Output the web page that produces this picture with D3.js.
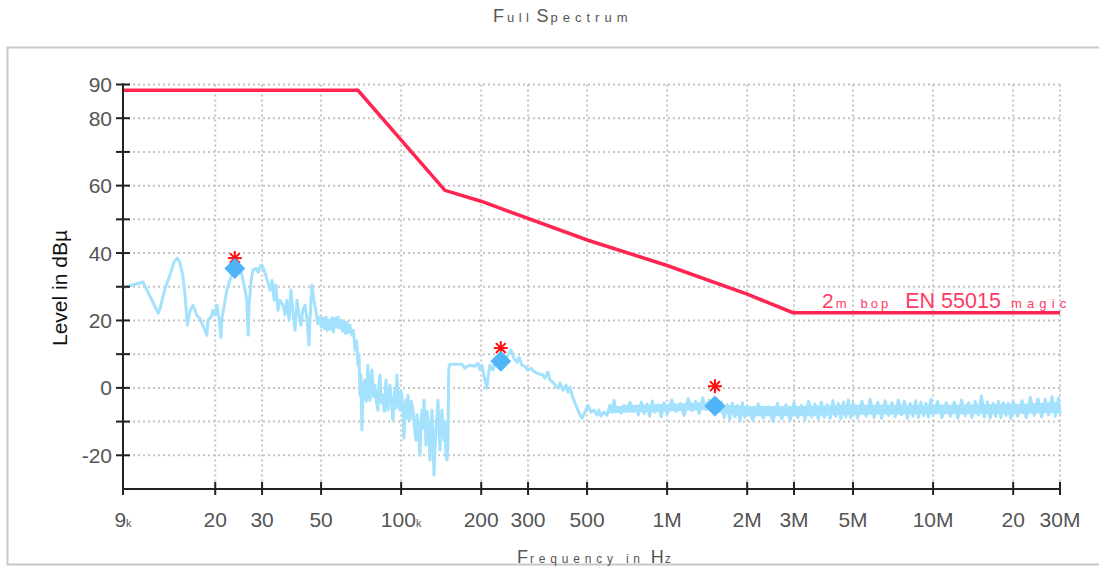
<!DOCTYPE html>
<html><head><meta charset="utf-8">
<script src="https://cdn.jsdelivr.net/npm/d3@7"></script>
<style>html,body{margin:0;padding:0;background:#fff;} svg{display:block;font-family:"Liberation Sans",Arial,sans-serif;}</style>
</head><body><svg id="c" width="1099" height="568"></svg>
<script>
// ---- data ----
const xTickFreqs = [9e3, 2e4, 3e4, 5e4, 1e5, 2e5, 3e5, 5e5, 1e6, 2e6, 3e6, 5e6, 1e7, 2e7, 3e7];
const xTickLabels = ["9k", "20", "30", "50", "100k", "200", "300", "500", "1M", "2M", "3M", "5M", "10M", "20", "30M"];
const yTickValues = [-20, -10, 0, 10, 20, 30, 40, 50, 60, 70, 80, 90];
const yTickLabels = ["-20", "", "0", "", "20", "", "40", "", "60", "", "80", "90"];

// limit line (frequency in kHz, level in dBµ)
const limitFreqKHz = [9, 68.8, 146, 201, 504, 1000, 2000, 2970, 30000];
const limitLevel = [88.3, 88.3, 58.6, 55.3, 43.8, 36.3, 27.8, 22.3, 22.3];
const limitName = "EN 55015";

// peak markers (kHz, dBµ)
const peakFreqKHz = [23.7, 237, 1513];
const peakLevel = [35.4, 7.9, -5.4];
const peakStarLevel = [38.5, 11.8, 0.5];

// dense noise floor core, read as envelope (kHz, upper dBµ, lower dBµ)
const floorFreqKHz = [600, 800, 1000, 1400, 1600, 2000, 3000, 5000, 10000, 20000, 30000];
const floorUpper = [-5.5, -5.0, -4.8, -4.2, -5.0, -5.4, -5.4, -5.0, -5.0, -4.8, -4.2];
const floorLower = [-7.5, -7.2, -7.0, -6.6, -7.6, -8.4, -8.4, -8.0, -7.8, -7.8, -7.4];

// measured spectrum [kHz, dBµ]
const spectrum = [
[9.0,29.7],[10.7,31.4],[11.4,27.0],[12.2,22.2],[12.4,23.5],[12.9,29.0],[13.5,33.4],[14.0,37.3],[14.4,38.5],[14.7,37.3],[15.1,33.4],
[15.4,27.5],[15.7,18.6],[16.1,23.0],[16.5,24.5],[17.1,21.3],[17.5,20.7],[17.8,19.2],[18.3,17.1],[18.6,15.6],[18.8,20.1],
[19.3,21.0],[19.6,23.0],[20.0,21.6],[20.3,24.5],[20.7,20.1],[21.0,15.0],[21.2,20.7],[21.8,26.0],[22.1,29.0],[22.7,31.9],
[23.3,34.3],[23.9,36.1],[24.8,35.5],[25.2,33.4],[25.9,29.0],[26.3,26.0],[26.6,15.6],[26.8,24.5],[27.3,31.9],[27.7,34.9],
[28.5,35.5],[29.0,34.3],[29.5,36.1],[30.0,36.4],[30.5,34.9],[31.0,33.4],[31.6,31.1],[32.1,29.0],[32.7,31.9],[33.3,26.0],
[33.8,30.5],[34.4,23.0],[35.0,26.0],[36.0,24.5],[36.6,21.6],[37.2,26.0],[37.9,20.1],[38.5,29.0],[39.2,22.4],[39.9,17.1],
[40.6,26.0],[41.3,21.6],[42.0,18.6],[42.7,23.0],[43.5,24.5],[44.3,20.1],[45.0,12.7],[45.4,20.1],[46.2,30.5],[47.0,26.0],
[47.8,23.0],[48.6,19.0],[49.5,21.0],[50.1,18.0],[50.8,20.7],[51.5,17.5],[52.2,21.0],[52.8,17.1],[53.5,20.1],[54.2,17.4],[54.9,20.8],[55.6,16.5],[56.4,20.7],[57.1,18.0],[57.9,21.0],[58.6,17.7],[59.4,20.1],[60.2,16.8],[61.0,19.6],[61.8,16.1],
[62.6,19.5],[63.4,16.4],[64.2,18.6],[65.3,15.6],[66.2,17.1],[67.1,11.2],[68.0,14.0],[68.8,6.7],[69.4,10.0],[70.0,-2.2],[70.6,4.0],[71.2,-12.5],[72.1,0.5],[73.1,2.3],[74.0,-4.0],[75.0,6.7],[75.6,-1.0],[76.3,-3.7],
[77.0,3.0],[77.7,5.3],[78.7,-2.5],[79.7,0.8],[80.7,-4.0],[81.8,-6.6],[82.5,1.0],[83.3,3.8],[84.3,-4.5],[85.4,-2.2],[86.5,-7.0],[87.7,2.3],[88.4,-3.0],[89.2,-6.6],[90.0,-1.0],[90.8,0.8],[92.0,-5.0],[93.2,-9.6],[94.0,-3.0],[94.8,-0.7],
[95.6,-6.0],[96.4,3.8],[97.7,-4.0],[99.0,-6.6],[99.8,-1.0],[100.7,-2.2],[101.6,-8.0],[102.5,-14.9],[103.4,-6.0],[104.3,-3.7],[105.2,-9.0],[106.1,-2.2],[107.0,-6.0],[107.9,-9.6],[109.3,-4.0],[110.8,-6.6],[112.2,-12.0],[113.7,-15.5],[114.7,-8.0],[115.7,-11.1],
[116.7,-16.0],[117.7,-20.0],[118.7,-10.0],[119.8,-6.6],[120.8,-12.0],[121.9,-3.7],[123.0,-10.0],[124.0,-17.0],[125.1,-7.0],[126.2,-9.6],[127.3,-15.0],[128.4,-21.4],[129.5,-12.0],[130.6,-6.6],[131.7,-14.0],[132.9,-25.9],[134.0,-18.0],[135.2,-12.5],[136.4,-8.0],[137.6,-3.7],
[138.8,-12.0],[140.0,-18.5],[141.2,-10.0],[142.4,-6.6],[143.6,-12.0],[144.9,-15.5],[146.1,-10.0],[147.4,-20.0],[148.7,-21.4],[150.0,-17.0],[151.0,5.8],[152.6,7.0],[169.4,7.0],[173.8,5.8],
[176.8,6.4],[181.5,6.7],[189.5,6.4],[194.5,7.3],[197.9,5.3],[201.3,6.7],[204.8,3.5],[210.0,-0.1],[212.0,2.9],[215.7,6.7],
[221.4,5.3],[227.3,8.2],[233.3,7.6],[239.4,7.6],[245.7,8.2],[252.2,9.7],[258.8,11.2],[265.6,8.8],[272.6,7.6],[277.4,9.1],
[284.6,6.7],[292.1,6.4],[299.8,5.3],[307.7,5.8],[318.5,4.7],[329.7,4.1],[341.4,3.8],[347.3,2.9],[356.4,4.7],[362.7,2.3],
[372.2,1.7],[382.0,0.5],[388.7,-0.1],[395.6,1.4],[405.9,-0.7],[416.6,0.8],[423.9,-1.3],[431.4,0.2],[438.8,-2.2],[446.5,-3.7],
[454.2,-5.2],[462.2,-6.6],[470.2,-8.1],[478.4,-9.0],[491.0,-7.2],[503.9,-5.2],[517.1,-7.2],[530.7,-6.6],[544.8,-8.1],[554.2,-6.6],
[563.9,-8.4],[578.8,-7.2],[593.9,-8.1],[609.6,-5.2],[620.3,-7.2],[631.2,-3.7],[642.2,-6.6],[659.1,-6.0],[670.6,-7.5],[688.2,-5.2],
[706.3,-6.6],[724.9,-4.3],[743.9,-6.6],[763.5,-5.4],
[780,-8.0],[800,-4.2],[820,-7.6],[840,-4.8],[860,-8.4],[880,-3.9],[900,-7.2],[925,-5.0],[950,-8.6],[975,-4.4],
[1000,-7.8],[1040,-3.6],[1080,-7.0],[1120,-4.6],[1160,-8.2],[1200,-3.2],[1240,-6.8],[1280,-4.0],[1320,-7.6],[1360,-3.0],
[1400,-6.4],[1440,-3.6],[1480,-7.0],[1520,-3.4],[1560,-6.6],[1600,-4.2],[1640,-8.8],[1680,-5.0],[1720,-9.4],[1760,-4.6],
[1800,-8.6],[1840,-5.2],[1880,-9.8],[1920,-4.4],[1960,-8.8],[2000,-5.4],[2100,-9.6],[2200,-4.8],[2300,-9.0],[2400,-5.6],
[2500,-10.0],[2600,-4.6],[2700,-9.2],[2800,-5.0],[2900,-9.6],[3000,-4.4],[3100,-8.8],[3200,-5.2],[3300,-9.4],[3400,-4.0],
[3500,-8.6],[3600,-4.8],[3700,-9.2],[3800,-4.2],[3900,-8.8],[4000,-5.0],[4100,-9.0],[4200,-3.8],[4300,-8.4],[4400,-4.6],
[4500,-9.2],[4600,-4.2],[4700,-8.6],[4800,-3.6],[4900,-8.8],[5000,-4.4],[5200,-9.0],[5400,-4.0],[5600,-8.4],[5800,-3.4],
[6000,-8.8],[6200,-4.2],[6400,-9.0],[6600,-3.8],[6800,-8.2],[7000,-4.4],[7200,-8.6],[7400,-3.6],[7600,-8.0],[7800,-4.0],
[8000,-9.0],[8200,-4.6],[8400,-8.4],[8600,-3.8],[8800,-8.8],[9000,-4.2],[9200,-8.2],[9400,-4.6],[9600,-8.6],[9800,-3.4],
[10000,-8.2],[10400,-4.0],[10800,-8.8],[11200,-4.4],[11600,-8.4],[12000,-4.2],[12400,-9.0],[12800,-3.6],[13200,-8.2],[13600,-4.4],
[14000,-8.8],[14400,-4.0],[14800,-8.0],[15200,-2.4],[15600,-8.6],[16000,-4.2],[16400,-9.0],[16800,-4.6],[17200,-8.4],[17600,-4.0],
[18000,-8.8],[18400,-4.4],[18800,-8.2],[19200,-4.6],[19600,-9.0],[20000,-4.0],[20800,-8.4],[21600,-3.8],[22400,-8.8],[23200,-2.8],
[24000,-8.2],[24800,-3.2],[25600,-8.6],[26400,-3.4],[27200,-8.0],[28000,-2.6],[28800,-8.4],[29600,-3.0],[30000,-7.8]
];

// ---- chart ----
const svg = d3.select("#c");
const x = d3.scaleLog().domain([9e3, 3e7]).range([123, 1060]);
const y = d3.scaleLinear().domain([-30, 90]).range([489, 84.5]);
const specColor = "#a3e1fc";

svg.append("rect").attr("width", 1099).attr("height", 568).attr("fill", "#fff");
// frame
svg.append("rect").attr("x", 7.5).attr("y", 47.5).attr("width", 1100).attr("height", 517)
  .attr("fill", "none").attr("stroke", "#c8c8c8").attr("stroke-width", 2);

// title
const title = svg.append("text").attr("x", 493).attr("y", 22).attr("fill", "#555");
title.append("tspan").attr("font-size", 18).text("F");
title.append("tspan").attr("font-size", 13).attr("dx", 3).style("letter-spacing", "4.5px").text("ull");
title.append("tspan").attr("font-size", 18).attr("dx", 3).text("S");
title.append("tspan").attr("font-size", 13).attr("dx", 2).style("letter-spacing", "5px").text("pectrum");

// grid
const grid = svg.append("g").attr("stroke", "#c4c4c4").attr("stroke-width", 2).attr("stroke-dasharray", "2,3");
grid.selectAll("line.h").data(yTickValues).join("line")
  .attr("x1", x(9e3)).attr("x2", x(3e7)).attr("y1", d => y(d)).attr("y2", d => y(d));
grid.selectAll("line.v").data(xTickFreqs.slice(1)).join("line")
  .attr("y1", y(90)).attr("y2", y(-30)).attr("x1", d => x(d)).attr("x2", d => x(d));

// limit line
const limitData = limitFreqKHz.map((f, i) => [f * 1e3, limitLevel[i]]);
svg.append("path").datum(limitData)
  .attr("d", d3.line().x(d => x(d[0])).y(d => y(d[1])))
  .attr("fill", "none").attr("stroke", "#ff2452").attr("stroke-width", 3.5);

// noise floor core
const floorData = floorFreqKHz.map((f, i) => [f * 1e3, floorUpper[i], floorLower[i]]);
svg.append("path").datum(floorData)
  .attr("d", d3.area().x(d => x(d[0])).y0(d => y(d[2])).y1(d => y(d[1])))
  .attr("fill", specColor);

// spectrum
svg.append("path").datum(spectrum)
  .attr("d", d3.line().x(d => x(d[0] * 1e3)).y(d => y(d[1])))
  .attr("fill", "none").attr("stroke", specColor).attr("stroke-width", 3).attr("stroke-linejoin", "round");

// asterisks
const star = svg.append("g").attr("stroke", "#ff1010").attr("stroke-width", 2);
peakFreqKHz.forEach((f, i) => {
  const cx = x(f * 1e3), cy = y(peakStarLevel[i]);
  const r = 7;
  [0, 45, 90, 135].forEach(a => {
    const rad = a * Math.PI / 180;
    star.append("line").attr("x1", cx - r * Math.cos(rad)).attr("y1", cy - r * Math.sin(rad))
      .attr("x2", cx + r * Math.cos(rad)).attr("y2", cy + r * Math.sin(rad));
  });
});

// diamonds
svg.selectAll("path.dia").data(peakFreqKHz).join("path")
  .attr("d", d3.symbol(d3.symbolSquare, 220)())
  .attr("transform", (d, i) => `translate(${x(d * 1e3)},${y(peakLevel[i])}) rotate(45)`)
  .attr("fill", "#4fb4f8");

// limit label
const lab = svg.append("text").attr("x", 822).attr("y", 308).attr("fill", "#ff3a66");
lab.append("tspan").attr("font-size", 21).text("2");
lab.append("tspan").attr("font-size", 13).attr("dx", 2).style("letter-spacing", "1px").text("m");
lab.append("tspan").attr("font-size", 13).attr("dx", 13).style("letter-spacing", "3px").text("bop");
lab.append("tspan").attr("font-size", 21.5).attr("dx", 14).text(limitName);
lab.append("tspan").attr("font-size", 13).attr("dx", 10).style("letter-spacing", "5.2px").text("magic");

// axes
const axisColor = "#222";
svg.append("line").attr("x1", x(9e3)).attr("x2", x(9e3)).attr("y1", y(90) - 1).attr("y2", y(-30) + 1)
  .attr("stroke", axisColor).attr("stroke-width", 2);
svg.append("line").attr("x1", x(9e3) - 1).attr("x2", x(3e7)).attr("y1", y(-30)).attr("y2", y(-30))
  .attr("stroke", axisColor).attr("stroke-width", 2);
svg.selectAll("line.yt").data(yTickValues).join("line")
  .attr("x1", x(9e3) - 7).attr("x2", x(9e3) + 7).attr("y1", d => y(d)).attr("y2", d => y(d))
  .attr("stroke", axisColor).attr("stroke-width", 2);
svg.selectAll("line.xt").data(xTickFreqs).join("line")
  .attr("x1", d => x(d)).attr("x2", d => x(d)).attr("y1", y(-30) - 7).attr("y2", y(-30) + 6)
  .attr("stroke", axisColor).attr("stroke-width", 2);

// y tick labels
svg.selectAll("text.yl").data(yTickValues).join("text")
  .attr("x", x(9e3) - 11).attr("y", d => y(d)).attr("dy", "0.36em")
  .attr("text-anchor", "end").attr("font-size", 21).attr("fill", "#555")
  .text((d, i) => yTickLabels[i]);

// x tick labels
xTickFreqs.forEach((f, i) => {
  const lbl = xTickLabels[i];
  const t = svg.append("text").attr("x", x(f)).attr("y", 527).attr("text-anchor", "middle")
    .attr("font-size", 21).attr("fill", "#555");
  if (lbl.endsWith("k")) {
    t.append("tspan").text(lbl.slice(0, -1));
    t.append("tspan").attr("font-size", 11).text("k");
  } else t.text(lbl);
});

// y axis title
svg.append("text").attr("transform", "translate(67,288) rotate(-90)").attr("text-anchor", "middle")
  .attr("font-size", 21).attr("fill", "#111").text("Level in dBµ");

// x axis title
const xt = svg.append("text").attr("x", 517).attr("y", 563).attr("fill", "#555");
xt.append("tspan").attr("font-size", 18).text("F");
xt.append("tspan").attr("font-size", 12).attr("dx", 2).style("letter-spacing", "4.8px").text("requency in");
xt.append("tspan").attr("font-size", 18).attr("dx", 6).text("H");
xt.append("tspan").attr("font-size", 12).attr("dx", 1).text("z");
</script></body></html>
